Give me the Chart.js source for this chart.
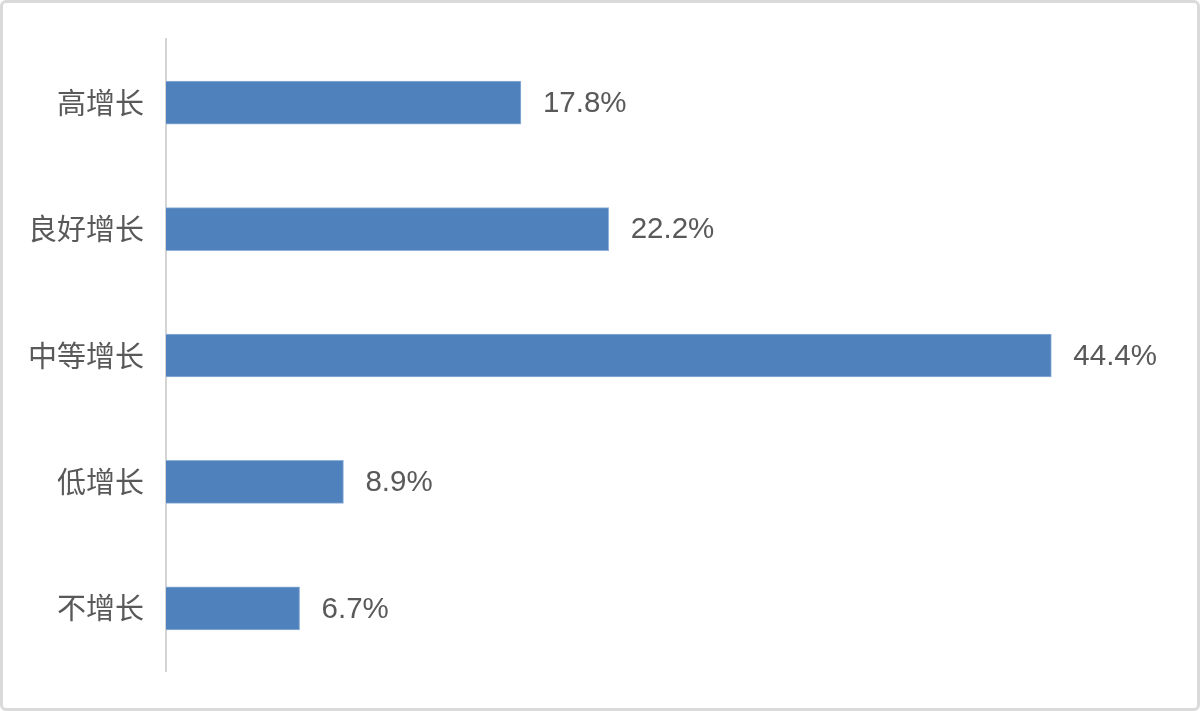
<!DOCTYPE html>
<html>
<head>
<meta charset="utf-8">
<script src="https://cdn.jsdelivr.net/npm/chart.js@4.4.1/dist/chart.umd.min.js"></script>
<style>
  html, body { margin: 0; padding: 0; background: #fff; }
  #wrap { position: relative; width: 1200px; height: 711px; }
  #frame {
    position: absolute; left: 0; top: 0; width: 1200px; height: 711px;
    box-sizing: border-box; border: 3px solid #dadada; border-radius: 6px;
    pointer-events: none;
  }
</style>
</head>
<body>
<div id="wrap">
  <canvas id="growthChart" width="1200" height="711"></canvas>
  <div id="frame"></div>
</div>
<script>
const categories = ['高增长', '良好增长', '中等增长', '低增长', '不增长'];
const shares = [17.8, 22.2, 44.4, 8.9, 6.7];

// draws "xx.x%" just past the end of each bar
const valueLabels = {
  id: 'valueLabels',
  afterDatasetsDraw(chart) {
    const ctx = chart.ctx;
    const meta = chart.getDatasetMeta(0);
    ctx.save();
    ctx.font = '29.5px "Liberation Sans", Arial, sans-serif';
    ctx.fillStyle = '#595959';
    ctx.textAlign = 'left';
    ctx.textBaseline = 'middle';
    meta.data.forEach((bar, i) => {
      ctx.fillText(shares[i].toFixed(1) + '%', bar.x + 22, bar.y + 1);
    });
    ctx.restore();
  }
};

new Chart(document.getElementById('growthChart'), {
  type: 'bar',
  data: {
    labels: categories,
    datasets: [{
      data: shares,
      backgroundColor: '#4f81bd',
      borderColor: '#8fb0d8',
      borderWidth: 1,
      barThickness: 43
    }]
  },
  options: {
    indexAxis: 'y',
    responsive: false,
    animation: false,
    layout: { padding: { top: 38, bottom: 39, right: 37, left: 0 } },
    plugins: {
      legend: { display: false },
      tooltip: { enabled: false }
    },
    scales: {
      x: {
        display: false,
        min: 0,
        max: 50
      },
      y: {
        afterFit(scale) { scale.width = 166; },
        grid: { display: false, drawTicks: false },
        border: { display: true, color: '#d4d4d4', width: 2 },
        ticks: {
          padding: 22,
          color: '#595959',
          font: { family: '"Noto Sans CJK SC", sans-serif', size: 29 }
        }
      }
    }
  },
  plugins: [valueLabels]
});
</script>
</body>
</html>
